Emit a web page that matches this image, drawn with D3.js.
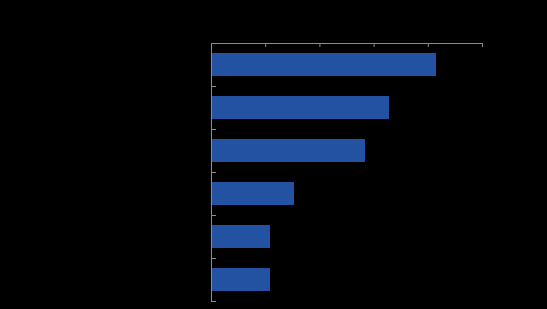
<!DOCTYPE html>
<html>
<head>
<meta charset="utf-8">
<script src="https://cdn.jsdelivr.net/npm/d3@7"></script>
<style>
  html, body { margin: 0; padding: 0; background: #000; }
  svg { display: block; }
</style>
</head>
<body>
<div class="canvas"></div>
<script>
// chart data (labels are drawn in black on black, as in the source)
const categories = ['Category A', 'Category B', 'Category C', 'Category D', 'Category E', 'Category F'];
const values = [41.5, 32.8, 28.4, 15.3, 10.9, 10.9];
const xTicks = [0, 10, 20, 30, 40, 50];

//chart dimensions
const dims = { width: 547, height: 309 };
const margin = { top: 43, right: 65, bottom: 8, left: 211 };
const w = dims.width - margin.left - margin.right;   // 271
const h = dims.height - margin.top - margin.bottom;  // 258

const svg = d3.select('.canvas')
    .append('svg')
    .attr('width', dims.width)
    .attr('height', dims.height)
    .style('background', '#000');

const graph = svg.append('g')
    .attr('transform', `translate(${margin.left}, ${margin.top})`);

//scales
const x = d3.scaleLinear()
    .domain([0, 50])
    .range([0, w]);

const y = d3.scaleBand()
    .domain(categories)
    .range([0, h])
    .paddingInner(0.488)
    .paddingOuter(0.244);

//index scale for tick marks between the categories
const yEdge = d3.scaleLinear()
    .domain([0, categories.length])
    .range([0, h]);

//bars
graph.selectAll('rect')
    .data(values)
    .enter()
    .append('rect')
        .attr('x', 0)
        .attr('y', (d, i) => y(categories[i]))
        .attr('width', d => x(d))
        .attr('height', y.bandwidth())
        .attr('fill', '#2352a3')
        .attr('shape-rendering', 'crispEdges');

//top value axis
const xAxis = graph.append('g')
    .call(d3.axisTop(x).tickValues(xTicks).tickSizeInner(-4).tickSizeOuter(0));

//left category axis with ticks on band edges
const yAxis = graph.append('g')
    .call(d3.axisLeft(yEdge).ticks(categories.length).tickSizeInner(-5).tickSizeOuter(0).tickFormat(''));

[xAxis, yAxis].forEach(a => {
    a.selectAll('path, line').attr('stroke', '#8c8c8c').attr('stroke-width', 1);
    a.selectAll('text')
        .attr('fill', '#000')
        .style('font-family', 'Liberation Sans, Arial, sans-serif')
        .style('font-size', '11px');
});

//category labels (black)
graph.selectAll('.cat')
    .data(categories)
    .enter()
    .append('text')
        .attr('class', 'cat')
        .attr('x', -8)
        .attr('y', d => y(d) + y.bandwidth() / 2)
        .attr('dy', '0.35em')
        .attr('text-anchor', 'end')
        .attr('fill', '#000')
        .style('font-family', 'Liberation Sans, Arial, sans-serif')
        .style('font-size', '11px')
        .text(d => d);
</script>
</body>
</html>
